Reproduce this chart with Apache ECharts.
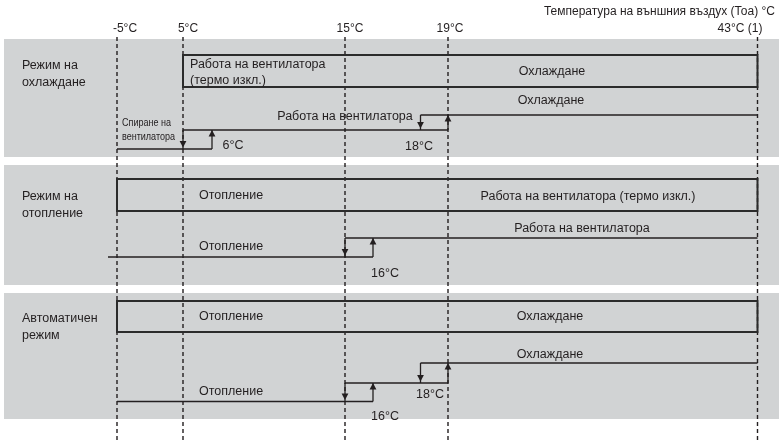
<!DOCTYPE html>
<html><head><meta charset="utf-8">
<script src="https://cdn.jsdelivr.net/npm/echarts@6/dist/echarts.min.js"></script>
<style>html,body{margin:0;padding:0;background:#fff}#c{width:783px;height:442px}</style>
</head><body><div id="c"></div>
<script>
// ---------------- data ----------------
const thresholdTemps = [-5, 5, 15, 19, 43];
const thresholdLabels = ['-5°C', '5°C', '15°C', '19°C', '43°C (1)'];
const axisTitle = 'Температура на външния въздух (Тоа) °C';
const modeNames = ['Режим на\nохлаждане', 'Режим на\nотопление', 'Автоматичен\nрежим'];
const boxFrom = [5, -5, -5];
const boxTo = [43, 43, 43];
const boxLeftTexts = ['Работа на вентилатора\n(термо изкл.)', 'Отопление', 'Отопление'];
const boxRightTexts = ['Охлаждане', 'Работа на вентилатора (термо изкл.)', 'Охлаждане'];
// step segments: [mode, fromTemp, toTemp, level]
const stepSegments = [
  [0, -5, 6, 0], [0, 5, 19, 1], [0, 18, 43, 2],
  [1, -5, 16, 0], [1, 15, 43, 1],
  [2, -5, 16, 0], [2, 15, 19, 1], [2, 18, 43, 2]
];
const stepNames = ['Спиране на\nвентилатора', 'Работа на вентилатора', 'Охлаждане',
  'Отопление', 'Работа на вентилатора',
  'Отопление', '', 'Охлаждане'];
// switch points: [mode, temp, fromLevel, toLevel]
const switchPoints = [
  [0, 5, 1, 0], [0, 6, 0, 1], [0, 18, 2, 1], [0, 19, 1, 2],
  [1, 15, 1, 0], [1, 16, 0, 1],
  [2, 15, 1, 0], [2, 16, 0, 1], [2, 18, 2, 1], [2, 19, 1, 2]
];
const switchLabels = ['', '6°C', '18°C', '', '', '16°C', '', '16°C', '18°C', ''];

// ---------------- layout (schematic diagram positions) ----------------
const tempX = { '-5': 117, '5': 183, '6': 212, '15': 345, '16': 373, '18': 420.5, '19': 448, '43': 757.5 };
const panelX = [4, 779];
const panelTop = [39, 165, 293], panelBottom = [157, 285, 419];
const boxY = [[55, 87], [179, 211], [301, 332]];
const levelY = [[149, 130, 115], [257, 238], [401.5, 383, 363]];
const modeNamePos = [[22, 74], [22, 205], [22, 327]];
const thresholdLabelX = [125, 188, 350, 450, 740];
const boxLeftPos = [[190, 72.5], [199, 196], [199, 317]];
const boxRightPos = [[552, 72], [588, 197], [550, 317]];
const stepNamePos = [[122, 130, 'left'], [345, 117, 'center'], [551, 101, 'center'],
  [199, 247, 'left'], [582, 229, 'center'], [199, 392, 'left'], null, [550, 355, 'center']];
const switchLabelPos = [null, [233, 146], [419, 147], null, null, [385, 274], null, [385, 417], [430, 395], null];
const lowStartOverride = { 3: 108 };

const INK = '#231f20';
const FONT = '"Liberation Sans", Arial, Helvetica, sans-serif';
const GRAY = '#d1d3d4';

function txt(x, y, text, align, size) {
  return { type: 'text', style: { text: text, x: x, y: y, align: align || 'left', verticalAlign: 'middle',
    fill: INK, font: (size || 12) + 'px ' + FONT, lineHeight: 16.5 } };
}

const chart = echarts.init(document.getElementById('c'));
const base = { type: 'custom', coordinateSystem: 'cartesian2d', clip: false, silent: true };

chart.setOption({
  animation: false,
  title: { text: axisTitle, right: 3, top: 1, textStyle: { fontSize: 12, fontWeight: 'normal', color: INK, fontFamily: FONT } },
  grid: { left: 0, right: 0, top: 0, bottom: 0 },
  xAxis: { type: 'value', min: 0, max: 783, show: false },
  yAxis: { type: 'value', min: 0, max: 442, inverse: true, show: false },
  series: [
    Object.assign({}, base, {
      z: 1,
      data: modeNames.map((_, i) => [i, 0]),
      renderItem: function (p, api) {
        const i = p.dataIndex;
        const a = api.coord([panelX[0], panelTop[i]]), b = api.coord([panelX[1], panelBottom[i]]);
        const n = api.coord(modeNamePos[i]);
        return { type: 'group', children: [
          { type: 'rect', shape: { x: a[0], y: a[1], width: b[0] - a[0], height: b[1] - a[1] }, style: { fill: GRAY } },
          txt(n[0], n[1], modeNames[i], 'left', 12.5)
        ] };
      }
    }),
    Object.assign({}, base, {
      z: 2,
      data: thresholdTemps.map((_, i) => [i, 0]),
      renderItem: function (p, api) {
        const i = p.dataIndex;
        const x = tempX[String(thresholdTemps[i])];
        const a = api.coord([x, 37]), b = api.coord([x, 442]);
        const l = api.coord([thresholdLabelX[i], 29]);
        return { type: 'group', children: [
          { type: 'line', shape: { x1: a[0], y1: a[1], x2: b[0], y2: b[1] }, style: { stroke: INK, lineWidth: 1.4, lineDash: [4, 3] } },
          txt(l[0], l[1], thresholdLabels[i], 'center', 12)
        ] };
      }
    }),
    Object.assign({}, base, {
      z: 3,
      data: boxFrom.map((_, i) => [i, 0]),
      renderItem: function (p, api) {
        const i = p.dataIndex;
        const a = api.coord([tempX[String(boxFrom[i])], boxY[i][0]]), b = api.coord([tempX[String(boxTo[i])], boxY[i][1]]);
        const l = api.coord(boxLeftPos[i]), r = api.coord(boxRightPos[i]);
        return { type: 'group', children: [
          { type: 'rect', shape: { x: a[0], y: a[1], width: b[0] - a[0], height: b[1] - a[1] }, style: { fill: 'none', stroke: '#2b2b2b', lineWidth: 2 } },
          txt(l[0], l[1], boxLeftTexts[i], 'left', 12.5),
          txt(r[0], r[1], boxRightTexts[i], 'center', 12.5)
        ] };
      }
    }),
    Object.assign({}, base, {
      z: 4,
      data: stepSegments.map((_, i) => [i, 0]),
      renderItem: function (p, api) {
        const i = p.dataIndex;
        const s = stepSegments[i];
        const y = levelY[s[0]][s[3]];
        const x0 = lowStartOverride[i] !== undefined ? lowStartOverride[i] : tempX[String(s[1])];
        const a = api.coord([x0, y]), b = api.coord([tempX[String(s[2])], y]);
        const ch = [{ type: 'line', shape: { x1: a[0], y1: a[1], x2: b[0], y2: b[1] }, style: { stroke: INK, lineWidth: 1.3 } }];
        const pos = stepNamePos[i];
        if (pos && stepNames[i]) {
          const c = api.coord([pos[0], pos[1]]);
          if (i === 0) {
            ch.push({ type: 'text', x: c[0], y: c[1], scaleX: 0.82, style: { text: stepNames[i], x: 0, y: 0, align: 'left', verticalAlign: 'middle', fill: INK, font: '11px ' + FONT, lineHeight: 14 } });
          } else {
            ch.push(txt(c[0], c[1], stepNames[i], pos[2], 12.5));
          }
        }
        return { type: 'group', children: ch };
      }
    }),
    Object.assign({}, base, {
      z: 5,
      data: switchPoints.map((_, i) => [i, 0]),
      renderItem: function (p, api) {
        const i = p.dataIndex;
        const s = switchPoints[i];
        const x = tempX[String(s[1])];
        const a = api.coord([x, levelY[s[0]][s[2]]]), b = api.coord([x, levelY[s[0]][s[3]]]);
        const dir = b[1] > a[1] ? 1 : -1; // +1 = pointing down
        const tipY = b[1] + (dir > 0 ? -1.5 : 0);
        const ch = [
          { type: 'line', shape: { x1: a[0], y1: a[1], x2: b[0], y2: b[1] }, style: { stroke: INK, lineWidth: 1.3 } },
          { type: 'polygon', shape: { points: [[b[0], tipY], [b[0] - 3.4, tipY - dir * 6.5], [b[0] + 3.4, tipY - dir * 6.5]] }, style: { fill: INK } }
        ];
        if (switchLabelPos[i] && switchLabels[i]) {
          const c = api.coord(switchLabelPos[i]);
          ch.push(txt(c[0], c[1], switchLabels[i], 'center', 12.5));
        }
        return { type: 'group', children: ch };
      }
    })
  ]
});
</script>
</body></html>
